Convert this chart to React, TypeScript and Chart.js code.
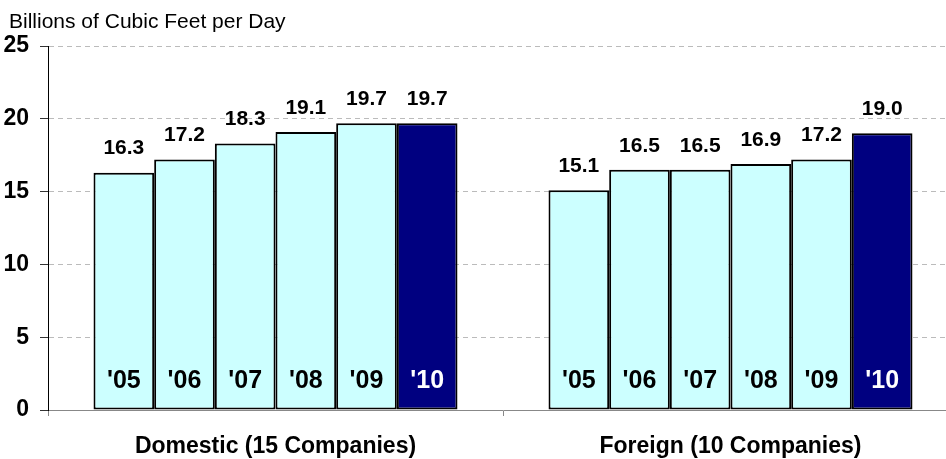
import React, { useEffect, useRef } from "react";
import { Chart, registerables } from "chart.js";

Chart.register(...registerables);

const groups = ["Domestic (15 Companies)", "Foreign (10 Companies)"];
const years = ["'05", "'06", "'07", "'08", "'09", "'10"];
const domestic = [16.3, 17.2, 18.3, 19.1, 19.7, 19.7];
const foreign = [15.1, 16.5, 16.5, 16.9, 17.2, 19.0];
const yTicks = [0, 5, 10, 15, 20, 25];
const axisTitle = "Billions of Cubic Feet per Day";

const LIGHT = "#CCFFFF";
const DARK = "#000080";
const FONT = "'Liberation Sans', Arial, sans-serif";

const labelPlugin = {
  id: "barLabels",
  afterDatasetsDraw(chart: any) {
    const ctx = chart.ctx;
    const yScale = chart.scales.y;
    ctx.save();
    ctx.textAlign = "center";
    ctx.textBaseline = "middle";
    chart.data.datasets.forEach((ds: any, di: number) => {
      const meta = chart.getDatasetMeta(di);
      meta.data.forEach((bar: any, i: number) => {
        const v = ds.data[i];
        ctx.fillStyle = "#000";
        ctx.font = `bold 21px ${FONT}`;
        ctx.fillText(v.toFixed(1), bar.x, bar.y - 24);
        ctx.font = `bold 25px ${FONT}`;
        ctx.fillStyle = di === years.length - 1 ? "#fff" : "#000";
        ctx.fillText(ds.label, bar.x, yScale.getPixelForValue(0) - 29);
      });
    });
    ctx.fillStyle = "#000";
    ctx.textAlign = "left";
    ctx.textBaseline = "alphabetic";
    ctx.font = `21px ${FONT}`;
    ctx.fillText(axisTitle, 9, 28);
    ctx.restore();
  },
};

export default function App() {
  const ref = useRef<HTMLCanvasElement>(null);
  useEffect(() => {
    if (!ref.current) return;
    const chart = new Chart(ref.current, {
      type: "bar",
      data: {
        labels: groups,
        datasets: years.map((y, i) => ({
          label: y,
          data: [domestic[i], foreign[i]],
          backgroundColor: i === years.length - 1 ? DARK : LIGHT,
          borderColor: "#000",
          borderWidth: 2,
          borderSkipped: false,
          categoryPercentage: 0.8,
          barPercentage: 1.0,
        })),
      },
      options: {
        responsive: false,
        animation: false,
        devicePixelRatio: 1,
        layout: { padding: { top: 46, right: 12, left: 0, bottom: 0 } },
        plugins: {
          legend: { display: false },
          tooltip: { enabled: false },
          title: { display: false },
        },
        scales: {
          x: {
            offset: true,
            grid: {
              offset: true,
              drawOnChartArea: false,
              drawTicks: true,
              tickLength: 6,
              color: "#888",
            },
            border: { color: "#888", width: 1 },
            ticks: {
              color: "#000",
              font: { family: FONT, size: 23, weight: "bold" },
              padding: 17,
            },
            afterFit: (s: any) => {
              s.height = 49;
            },
          },
          y: {
            min: 0,
            max: 25,
            afterBuildTicks: (s: any) => {
              s.ticks = yTicks.map((v) => ({ value: v }));
            },
            grid: {
              color: (c: any) => (c.tick && c.tick.value === 0 ? "rgba(0,0,0,0)" : "#bbb"),
              tickColor: "#333",
              tickLength: 8,
              tickBorderDash: [],
            },
            border: { color: "#000", width: 1, dash: [5, 4] },
            ticks: {
              color: "#000",
              font: { family: FONT, size: 23, weight: "bold" },
              padding: 11,
            },
            afterFit: (s: any) => {
              s.width = 48;
            },
          },
        },
      },
      plugins: [labelPlugin],
    });
    return () => chart.destroy();
  }, []);
  return (
    <div
      style={{
        position: "fixed",
        left: 0,
        top: 0,
        width: 946,
        height: 459,
        overflow: "hidden",
        background: "#fff",
      }}
    >
      <canvas ref={ref} width={970} height={459} style={{ display: "block" }} />
    </div>
  );
}
